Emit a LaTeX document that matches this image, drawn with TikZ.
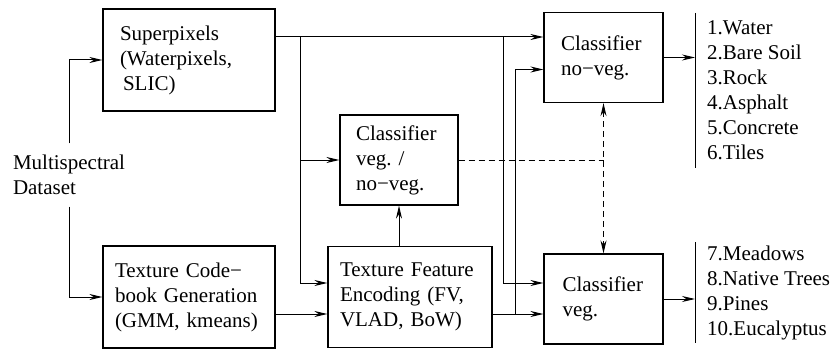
\documentclass[tikz,border=0pt]{standalone}
\usepackage{fontspec}
\setmainfont{Liberation Serif}
\usetikzlibrary{arrows.meta}
\tikzset{every node/.style={font=\fontsize{21}{25}\selectfont},
  box/.style={draw,line width=1.2pt,align=left,inner ysep=0pt},
  plain/.style={align=left,inner xsep=0pt,inner ysep=11.5pt},
  list/.style={anchor=north west,align=left,inner xsep=12pt,inner ysep=0pt},
  arr/.style={line width=1pt,-{Stealth[length=13pt,width=6pt]}},
  dline/.style={line width=1pt,dash pattern=on 6pt off 4pt},
  bar/.style={line width=1pt}}

\begin{document}
\frenchspacing
\begin{tikzpicture}[x=1pt,y=-1pt]
      \useasboundingbox (0,0) rectangle (835,350);
      \node[plain] (D) at (69,175) {Multispectral\\Dataset};
      \node[box,minimum height=102pt,text width=138pt,inner xsep=17pt] (SP) at (189,60) {Superpixels\\(Waterpixels,\\\hspace*{3pt}SLIC)};
      \node[box,minimum height=102pt,text width=148pt,inner xsep=12pt] (CB) at (189,297) {Texture Code−\\book Generation\\(GMM, kmeans)};
      \node[box,minimum height=101pt,text width=140pt,inner xsep=12pt] (FE) at (410,297) {Texture Feature\\Encoding (FV,\\VLAD, BoW)};
      \node[box,minimum height=90pt,text width=86pt,inner xsep=16pt] (VN) at (399,160) {Classifier\\veg. /\\no−veg.};
      \node[box,minimum height=90pt,text width=85pt,inner xsep=17pt] (NV) at (603.5,57.5) {Classifier\\no−veg.};
      \node[box,minimum height=90pt,text width=82pt,inner xsep=18.5pt] (V) at (603.5,299) {Classifier\\veg.};
      \node[list,minimum height=155pt] (L1) at (695,13) {1.Water\\2.Bare Soil\\3.Rock\\4.Asphalt\\5.Concrete\\6.Tiles};
      \node[list,minimum height=101pt] (L2) at (695,242) {7.Meadows\\8.Native Trees\\9.Pines\\10.Eucalyptus};
      \coordinate (J1) at (300,37);
      \coordinate (J2) at (503,37);
      \coordinate (J3) at (515,314);

      \draw[bar] (L1.north west) -- (L1.south west);
      \draw[bar] (L2.north west) -- (L2.south west);
      \draw[arr] (D.north) |- (SP.west);
      \draw[arr] (D.south) |- (CB.west);
      \draw[arr] (SP.east |- J1) -- (NV.west |- J1);
      \draw[arr] (J1) |- (VN.west);
      \draw[arr] (J1) |- ([yshift=14pt]FE.west);
      \draw[arr] (J2) |- ([yshift=16pt]V.west);
      \draw[arr] ([yshift=-17pt]CB.east) -- ([yshift=-17pt]FE.west);
      \draw[arr] ([yshift=-17pt]FE.east) -- (V.west |- J3);
      \draw[arr] (J3) |- ([yshift=-12pt]NV.west);
      \draw[arr] (VN.south |- FE.north) -- (VN.south);
      \draw[dline] (VN.east) -- (VN.east -| NV.south);
      \draw[dline,{Stealth[length=13pt,width=6pt]}-{Stealth[length=13pt,width=6pt]}] (NV.south) -- (V.north);
      \draw[arr] (NV.east) -- (NV.east -| L1.west);
      \draw[arr] (V.east) -- (V.east -| L2.west);
\end{tikzpicture}
\end{document}
